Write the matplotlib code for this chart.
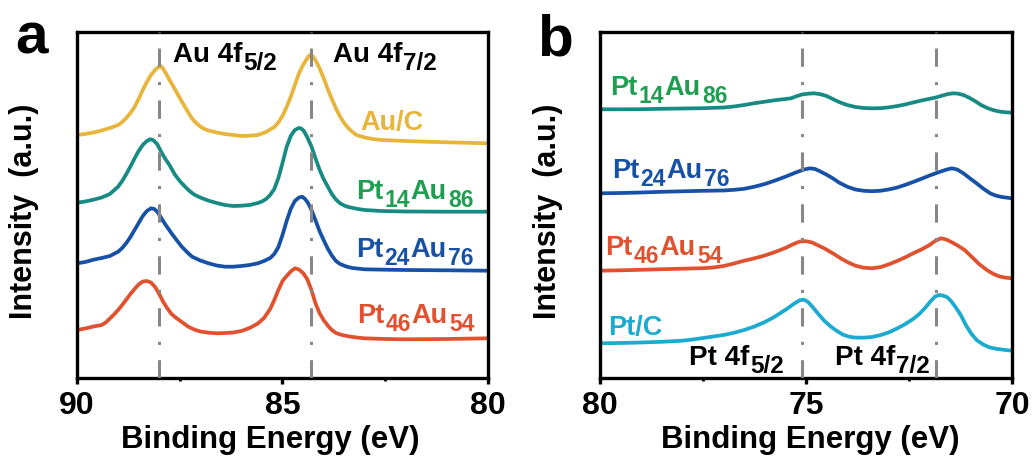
import matplotlib
matplotlib.use("Agg")
import matplotlib.pyplot as plt
from matplotlib.ticker import FixedLocator

plt.rcParams['font.family'] = ['Liberation Sans', 'DejaVu Sans']
plt.rcParams['font.weight'] = 'bold'

# ---------------- data : panel a (Au 4f) ----------------
a_auc_E = [90.0, 89.8, 89.6, 89.4, 89.2, 89.0, 88.9, 88.8, 88.7, 88.6, 88.5, 88.4, 88.3, 88.2,
           88.1, 88.0, 87.95, 87.9, 87.8, 87.7, 87.6, 87.5, 87.4, 87.3, 87.2, 87.1, 87.0, 86.9,
           86.8, 86.6, 86.4, 86.2, 86.0, 85.8, 85.6, 85.5, 85.4, 85.3, 85.2, 85.1, 85.0, 84.9,
           84.8, 84.7, 84.6, 84.5, 84.4, 84.35, 84.3, 84.25, 84.2, 84.1, 84.0, 83.9, 83.8, 83.7,
           83.6, 83.5, 83.4, 83.3, 83.2, 83.0, 82.8, 82.6, 82.3, 82.0, 81.5, 81.0, 80.5, 80.0]
a_auc_I = [243, 244, 245.5, 247.5, 250, 253, 256, 260, 265, 271, 279, 288, 296, 303,
           308, 311.5, 311.5, 309, 302, 294.5, 287.5, 280, 273, 266, 259.5, 255, 251.5, 249,
           247.5, 245.5, 244, 243, 242, 242.3, 243, 244.5, 246, 248.5, 251, 255.5, 262, 271,
           281, 293, 304.5, 313, 319.5, 322.5, 323, 321, 318, 310, 300, 289, 279, 269.5,
           261.5, 255, 250, 246, 243, 240.5, 239, 238, 237.5, 237, 236.3, 235.7, 235.2, 234.7]

a_pt14_E = [90.0, 89.8, 89.6, 89.4, 89.2, 89.0, 88.9, 88.8, 88.7, 88.6, 88.5, 88.4, 88.3, 88.22,
            88.15, 88.05, 87.95, 87.85, 87.75, 87.62, 87.5, 87.37, 87.25, 87.13, 87.0, 86.8, 86.6,
            86.4, 86.2, 86.0, 85.8, 85.6, 85.5, 85.4, 85.3, 85.2, 85.1, 85.0, 84.9, 84.8, 84.7,
            84.6, 84.55, 84.48, 84.4, 84.3, 84.2, 84.1, 84.0, 83.9, 83.8, 83.7, 83.6, 83.5, 83.4,
            83.2, 83.0, 82.6, 82.0, 81.0, 80.0]
a_pt14_I = [175.3, 176.5, 178.3, 180.5, 184, 191.3, 197, 204, 211.5, 219.5, 227, 233, 237, 238.7,
            238, 234, 226, 219, 213, 203.5, 197, 191.3, 186.5, 183, 180.5, 177.3, 175,
            173, 172, 172.3, 173, 175, 176.5, 179, 183, 189, 200, 215, 231, 242, 248,
            250, 249.7, 247, 241, 232, 220, 208.5, 199, 191.5, 184, 178.5, 174.7, 172.5, 171,
            169.3, 168, 167, 166.5, 166.3, 166.3]

a_pt24_E = [90.0, 89.8, 89.6, 89.4, 89.2, 89.0, 88.9, 88.8, 88.7, 88.6, 88.5, 88.4, 88.3, 88.2,
            88.12, 88.04, 87.95, 87.85, 87.7, 87.55, 87.45, 87.3, 87.2, 87.0, 86.8, 86.6, 86.4,
            86.2, 86.0, 85.8, 85.6, 85.45, 85.3, 85.2, 85.1, 85.0, 84.9, 84.8, 84.7, 84.6, 84.52,
            84.45, 84.38, 84.3, 84.2, 84.1, 84.0, 83.9, 83.8, 83.7, 83.6, 83.45, 83.3, 83.0, 82.5,
            82.0, 81.0, 80.0]
a_pt24_I = [114.7, 116, 118.3, 120, 122, 126.3, 130, 135, 141, 148, 155, 162, 167, 169.7,
            169, 166, 160, 153.5, 144.7, 136.5, 131.3, 125, 121.3, 117.5, 114.7, 112.5, 111.3,
            111.3, 112, 113, 114.7, 117, 120, 124, 131, 143, 157, 169, 177, 180.5, 181.3,
            179, 175, 168.5, 158, 147, 138, 129.5, 122.5, 117, 114, 111.5, 110, 108.7, 108.3,
            108, 107.7, 107.3]

a_pt46_E = [90.0, 89.8, 89.6, 89.4, 89.3, 89.2, 89.1, 89.0, 88.9, 88.8, 88.7, 88.6, 88.5, 88.4,
            88.3, 88.2, 88.1, 88.0, 87.9, 87.8, 87.7, 87.6, 87.45, 87.3, 87.15, 87.0, 86.8, 86.6,
            86.4, 86.2, 86.0, 85.8, 85.6, 85.45, 85.3, 85.2, 85.1, 85.0, 84.9, 84.8, 84.7, 84.6,
            84.5, 84.4, 84.3, 84.2, 84.1, 84.0, 83.9, 83.8, 83.7, 83.55, 83.4, 83.2, 83.0, 82.5,
            82.0, 81.0, 80.0]
a_pt46_I = [48, 49.5, 51.5, 53, 55.5, 59.5, 63.5, 68, 73, 78.5, 84, 89, 93.5, 96.5,
            97, 95.5, 91, 84, 76, 69.5, 64, 60.5, 56, 51.5, 48.5, 46.5, 45.3, 44.7,
            45, 45.5, 47, 50, 54.5, 60, 69, 78, 88, 97, 102, 106.5, 109.7, 108.5,
            105, 99, 88.5, 75, 65, 58, 52.5, 48, 45, 43, 41.7, 40.5, 39.7, 39,
            38.7, 39, 39.7]

# ---------------- data : panel b (Pt 4f) ----------------
b_pt14_E = [80.0, 79.5, 79.0, 78.5, 78.0, 77.5, 77.0, 76.75, 76.5, 76.25, 76.0, 75.75, 75.5,
            75.36, 75.25, 75.1, 74.95, 74.8, 74.65, 74.5, 74.35, 74.2, 74.0, 73.8, 73.6, 73.4,
            73.2, 73.0, 72.8, 72.6, 72.4, 72.2, 72.0, 71.85, 71.7, 71.55, 71.42, 71.3, 71.18,
            71.05, 70.9, 70.75, 70.6, 70.45, 70.3, 70.15, 70.0]
b_pt14_I = [268.7, 268.7, 268.8, 269.2, 269.5, 269.8, 270.5, 271.5, 273, 274.8, 276.3, 277.8, 279,
            279.7, 281.5, 283.5, 284.3, 284.7, 283.8, 282, 279, 276, 273, 271, 270, 269.7,
            269.8, 270.6, 271.8, 273.5, 275.5, 277.5, 279.2, 280.5, 282.3, 284, 284.7, 284.3, 283,
            280.5, 277, 273, 270, 267.8, 266.4, 265.7, 265.3]

b_pt24_E = [80.0, 79.5, 79.0, 78.5, 78.0, 77.5, 77.0, 76.75, 76.5, 76.25, 76.0, 75.75, 75.5,
            75.25, 75.05, 74.9, 74.78, 74.65, 74.5, 74.35, 74.2, 74.0, 73.8, 73.6, 73.4, 73.2,
            73.0, 72.8, 72.6, 72.4, 72.2, 72.0, 71.8, 71.6, 71.46, 71.33, 71.18, 71.0, 70.86,
            70.7, 70.53, 70.4, 70.25, 70.0]
b_pt24_I = [184.7, 185, 185.5, 186.2, 186.7, 187.2, 187.5, 188.2, 189.2, 191.3, 194, 197.5, 201.3,
            205.5, 208.5, 209.7, 209, 206.5, 203.3, 199.7, 195.5, 191.3, 188.5, 187.2, 186.8, 187.2,
            188.5, 190.3, 193, 196, 199.2, 202.5, 205.5, 208.3, 209.7, 208.5, 204.7, 199, 194.7,
            189.5, 184.7, 182.5, 181, 179.7]

b_pt46_E = [80.0, 79.5, 79.0, 78.5, 78.0, 77.5, 77.25, 77.0, 76.75, 76.5, 76.25, 76.0, 75.75,
            75.5, 75.3, 75.15, 75.0, 74.85, 74.7, 74.55, 74.35, 74.15, 74.0, 73.8, 73.6, 73.4,
            73.2, 73.0, 72.8, 72.6, 72.4, 72.2, 72.0, 71.85, 71.72, 71.6, 71.45, 71.3, 71.15,
            70.94, 70.8, 70.61, 70.45, 70.3, 70.15, 70.0]
b_pt46_I = [107.3, 107.7, 108.2, 108.8, 109.3, 109.8, 110.5, 112, 114.5, 117.3, 119.7, 122.5, 126,
            130, 134, 136.5, 136.8, 135.5, 132.5, 129.5, 124.7, 119.5, 116, 112.3, 110.3, 109.7,
            110.8, 113.5, 116.8, 120.5, 124.7, 128.5, 133, 137.5, 139.7, 138.5, 135.5, 132, 128,
            119.7, 114, 108, 104, 101.5, 100.3, 99.7]

b_ptc_E = [80.0, 79.5, 79.0, 78.5, 78.0, 77.75, 77.5, 77.25, 77.0, 76.75, 76.5, 76.25, 76.0,
           75.8, 75.6, 75.45, 75.3, 75.15, 75.05, 74.95, 74.85, 74.7, 74.55, 74.4, 74.25, 74.1,
           73.95, 73.8, 73.6, 73.4, 73.2, 73.0, 72.8, 72.6, 72.4, 72.25, 72.1, 71.98, 71.88,
           71.78, 71.68, 71.58, 71.48, 71.38, 71.25, 71.12, 71.0, 70.86, 70.7, 70.55, 70.4,
           70.2, 70.0]
b_ptc_I = [34.7, 35, 35.5, 36.2, 37.3, 38.5, 40, 41.5, 43, 45.2, 48, 51.5, 56,
           60.3, 65.5, 69.5, 74, 77.8, 78.3, 76, 71.5, 64, 57, 51.5, 47, 43.3,
           41.3, 40.4, 40.3, 41, 42.8, 45.5, 49.3, 53.7, 59, 64, 70.5, 76.5, 81,
           83, 82.5, 81, 77, 71.5, 63.5, 53, 45, 38, 33.5, 30.7, 29.3,
           28.2, 27.3]

a_peaks = [88.0, 84.3]
b_peaks = [75.1, 71.85]
a_ticks = [90, 85, 80]
b_ticks = [80, 75, 70]

YELLOW = '#E8B43A'
TEAL = '#188A84'
GREEN = '#1F9E52'
BLUE = '#1651A6'
RED = '#E0512F'
CYAN = '#1BAAD0'
GREY = '#878787'

W, H = 1035, 457
fig = plt.figure(figsize=(W / 100, H / 100), dpi=100)
renderer = fig.canvas.get_renderer()


def px_axes(x0, y0, x1, y1):
    return fig.add_axes([x0 / W, 1 - y1 / H, (x1 - x0) / W, (y1 - y0) / H])


axa = px_axes(77, 32, 488, 378)
axb = px_axes(600, 32, 1012, 378)

LW = 2.7
series_a = [(a_auc_E, a_auc_I, YELLOW), (a_pt14_E, a_pt14_I, TEAL),
            (a_pt24_E, a_pt24_I, BLUE), (a_pt46_E, a_pt46_I, RED)]
series_b = [(b_pt14_E, b_pt14_I, TEAL), (b_pt24_E, b_pt24_I, BLUE),
            (b_pt46_E, b_pt46_I, RED), (b_ptc_E, b_ptc_I, CYAN)]

for ax, series, peaks, ticks, xl in [(axa, series_a, a_peaks, a_ticks, (90, 80)),
                                     (axb, series_b, b_peaks, b_ticks, (80, 70))]:
    for E, I, c in series:
        ax.plot(E, I, color=c, lw=LW, solid_joinstyle='round', solid_capstyle='butt', zorder=2)
    for p in peaks:
        ax.axvline(p, color=GREY, lw=2.2, dashes=(6, 5, 1, 5), zorder=3)
    ax.set_xlim(*xl)
    ax.set_ylim(0, 346)
    ax.set_yticks([])
    ax.set_xticks(ticks)
    ax.set_xticklabels([str(t) for t in ticks])
    ax.xaxis.set_minor_locator(FixedLocator([(ticks[0] + ticks[1]) / 2, (ticks[1] + ticks[2]) / 2]))
    ax.tick_params(axis='x', which='major', direction='out', length=4, width=2.4,
                   labelsize=23, pad=5)
    ax.tick_params(axis='x', which='minor', direction='out', length=2.5, width=2.0)
    for lab in ax.get_xticklabels():
        lab.set_fontweight('bold')
    for s in ax.spines.values():
        s.set_linewidth(2.4)
    ax.set_xlabel('Binding Energy (eV)', fontsize=22.5, fontweight='bold')

axa.xaxis.set_label_coords((270 - 77) / 411, -0.135)
axb.xaxis.set_label_coords((810 - 600) / 412, -0.135)
for ax in (axa, axb):
    ax.xaxis.label.set_va('top')


def ftext(x, y, s, **kw):
    return fig.text(x / W, 1 - y / H, s, **kw)


def rich(x, y, parts, color, size=19.5, sub_size=16.5, drop=8):
    cx = x
    for s, sub in parts:
        t = ftext(cx, y + (drop if sub else 0), s, color=color, fontsize=sub_size if sub else size,
                  fontweight='bold', ha='left', va='baseline')
        bb = t.get_window_extent(renderer)
        cx += bb.width + 1


# y labels
ftext(24, 211, 'Intensity  (a.u.)', rotation=90, ha='center', va='center', fontsize=22, fontweight='bold')
ftext(548, 211, 'Intensity  (a.u.)', rotation=90, ha='center', va='center', fontsize=22, fontweight='bold')

# panel letters
ftext(15, 53, 'a', fontsize=42, fontweight='bold', ha='left', va='baseline')
ftext(537, 55, 'b', fontsize=42, fontweight='bold', ha='left', va='baseline')

# peak labels
rich(173, 62, [('Au 4f', False), ('5/2', True)], 'black', size=20, sub_size=17.5)
rich(333, 62, [('Au 4f', False), ('7/2', True)], 'black', size=20, sub_size=17.5)
rich(689, 365, [('Pt 4f', False), ('5/2', True)], 'black', size=20, sub_size=17.5)
rich(835, 365, [('Pt 4f', False), ('7/2', True)], 'black', size=20, sub_size=17.5)

# series labels panel a
rich(360, 130, [('Au/C', False)], YELLOW)
rich(356, 199, [('Pt', False), ('14', True), ('Au', False), ('86', True)], GREEN)
rich(356, 257, [('Pt', False), ('24', True), ('Au', False), ('76', True)], BLUE)
rich(357, 323, [('Pt', False), ('46', True), ('Au', False), ('54', True)], RED)

# series labels panel b
rich(610, 95, [('Pt', False), ('14', True), ('Au', False), ('86', True)], GREEN)
rich(612, 178, [('Pt', False), ('24', True), ('Au', False), ('76', True)], BLUE)
rich(605, 255, [('Pt', False), ('46', True), ('Au', False), ('54', True)], RED)
rich(608, 335, [('Pt/C', False)], CYAN)

fig.savefig('out.png', dpi=100)
